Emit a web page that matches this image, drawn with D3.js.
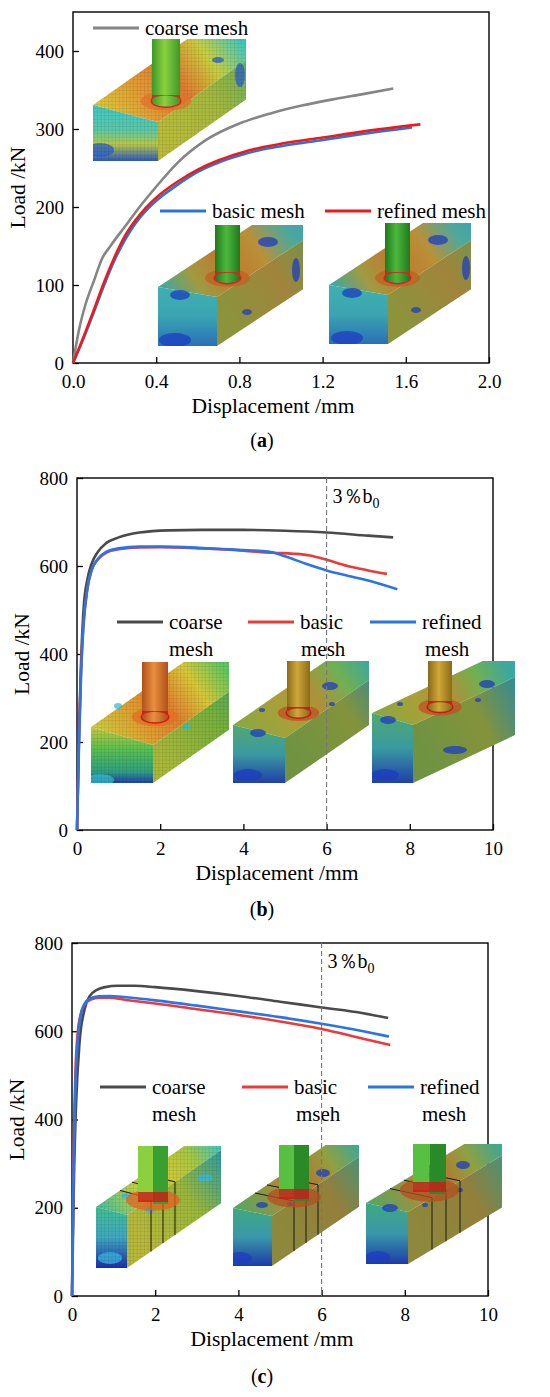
<!DOCTYPE html>
<html>
<head>
<meta charset="utf-8">
<script src="https://cdn.jsdelivr.net/npm/d3@7/dist/d3.min.js"></script>
<style>
  body { margin: 0; background: #fff; }
  svg text { font-family: "Liberation Serif", "Times New Roman", Times, "Nimbus Roman", "FreeSerif", "Noto Serif", "DejaVu Serif", "Tinos", serif; fill: #000; }
</style>
</head>
<body>
<svg id="fig" width="550" height="1397"></svg>
<script>
// ---- panel (a) data : displacement (mm) / load (kN)
const aCoarseX  = [0, 0.03, 0.06, 0.1, 0.14, 0.18, 0.25, 0.32, 0.4, 0.5, 0.64, 0.8, 0.95, 1.1, 1.25, 1.4, 1.54];
const aCoarseY  = [0, 44, 75, 105, 134, 150, 175, 200, 226, 256, 286, 307, 320, 330, 338, 345, 352];
const aBasicX   = [0, 0.05, 0.1, 0.15, 0.2, 0.25, 0.3, 0.35, 0.4, 0.5, 0.6, 0.7, 0.8, 0.9, 1.0, 1.2, 1.4, 1.63];
const aBasicY   = [0, 31, 65, 100, 132, 158, 179, 195, 208, 228, 245, 257, 266, 273, 278, 286, 294, 302];
const aRefinedX = [0, 0.05, 0.1, 0.15, 0.2, 0.25, 0.3, 0.35, 0.4, 0.5, 0.6, 0.7, 0.8, 0.9, 1.0, 1.2, 1.4, 1.67];
const aRefinedY = [0, 33, 68, 104, 136, 163, 183, 199, 212, 232, 248, 260, 269, 276, 281, 289, 297, 306];

// ---- panel (b) data
const bCoarseX  = [0, 0.05, 0.1, 0.16, 0.25, 0.35, 0.5, 0.7, 1.0, 1.5, 2.2, 3, 4, 5, 6, 7, 7.6];
const bCoarseY  = [0, 230, 390, 505, 570, 605, 632, 652, 665, 676, 681, 682, 682, 680, 676, 669, 665];
const bBasicX   = [0, 0.05, 0.1, 0.15, 0.25, 0.35, 0.5, 0.7, 1.0, 1.5, 2, 3, 4, 4.7, 5.2, 5.6, 6, 6.5, 7, 7.45];
const bBasicY   = [0, 220, 370, 460, 550, 590, 615, 630, 638, 642, 643, 640, 635, 630, 628, 624, 614, 600, 590, 582];
const bRefinedX = [0, 0.05, 0.1, 0.15, 0.25, 0.35, 0.5, 0.7, 1.0, 1.5, 2, 3, 4, 4.6, 5, 5.5, 6, 6.5, 7, 7.7];
const bRefinedY = [0, 200, 360, 455, 548, 590, 616, 632, 640, 644, 644, 641, 636, 633, 622, 605, 590, 578, 567, 547];

// ---- panel (c) data
const cCoarseX  = [0, 0.05, 0.1, 0.18, 0.3, 0.42, 0.6, 0.8, 1.1, 1.5, 2, 3, 4, 5, 6, 7, 7.6];
const cCoarseY  = [0, 280, 440, 573, 649, 679, 694, 700, 703, 703, 700, 691, 680, 667, 654, 641, 630];
const cBasicX   = [0, 0.04, 0.08, 0.14, 0.2, 0.3, 0.45, 0.65, 0.9, 1.3, 2, 3, 4, 5, 6, 7, 7.65];
const cBasicY   = [0, 330, 500, 600, 635, 660, 672, 676, 676, 671, 663, 650, 637, 622, 605, 583, 569];
const cRefinedX = [0, 0.04, 0.08, 0.14, 0.2, 0.3, 0.45, 0.65, 0.9, 1.3, 2, 3, 4, 5, 6, 7, 7.62];
const cRefinedY = [0, 300, 470, 580, 632, 662, 675, 679, 680, 677, 670, 658, 645, 632, 617, 600, 588];

const aXTicks = [0, 0.4, 0.8, 1.2, 1.6, 2.0];
const aYTicks = [0, 100, 200, 300, 400];
const bcXTicks = [0, 2, 4, 6, 8, 10];
const bcYTicks = [0, 200, 400, 600, 800];
const limitDisp = 6;   // 3%b0

const FONT = '"Liberation Serif", "Times New Roman", Times, "Nimbus Roman", FreeSerif, "Noto Serif", "DejaVu Serif", Tinos, serif';
const svg = d3.select("#fig");
const defs = svg.append("defs");

// coarse mesh grid
const pat = defs.append("pattern").attr("id", "mesh").attr("patternUnits", "userSpaceOnUse")
  .attr("width", 3.6).attr("height", 3.6);
pat.append("path").attr("d", "M0,0H3.6M0,0V3.6").attr("stroke", "rgba(0,0,0,0.28)").attr("stroke-width", 0.5);

// colour maps of the FE pictures
const pal = {
  coarseA: {
    top:   [[0, "#d8cc3a"], [0.25, "#e39a34"], [0.45, "#e07a30"], [0.65, "#c8d040"], [0.85, "#40c8c0"], [1, "#3cc0c8"]],
    front: [[0, "#c8cc40"], [0.3, "#b4c844"], [0.55, "#7cc060"], [0.8, "#3aa8c0"], [1, "#2a60c0"]],
    end:   [[0, "#40c8c4"], [0.45, "#5cc8a8"], [0.7, "#b8c84a"], [1, "#2c58c0"]],
    col: ["#3a9a28", "#8cd040", "#3a9a28"], ring: "#e02020", weld: "#e07030",
    spots: "#2b5fc8"
  },
  fineA: {
    top:   [[0, "#3aa8a8"], [0.2, "#a09a40"], [0.4, "#c07a30"], [0.6, "#b89038"], [0.8, "#4aa8a0"], [1, "#36a0b0"]],
    front: [[0, "#98a040"], [0.35, "#b09040"], [0.6, "#80a050"], [0.85, "#3a9aa8"], [1, "#3290b0"]],
    end:   [[0, "#40b0b0"], [0.5, "#3aa4b0"], [1, "#2a70b8"]],
    col: ["#1e7a1e", "#4cb83c", "#1e7a1e"], ring: "#e02020", weld: "#c06020",
    spots: "#1c3ec0"
  },
  coarseB: {
    top:   [[0, "#c8d040"], [0.25, "#e0a030"], [0.45, "#e08030"], [0.65, "#d8c838"], [0.85, "#60c860"], [1, "#40c890"]],
    front: [[0, "#b8c840"], [0.4, "#80c040"], [0.7, "#40b080"], [1, "#2a60b8"]],
    end:   [[0, "#c8c840"], [0.4, "#58c050"], [0.8, "#30a080"], [1, "#2040b0"]],
    col: ["#b05018", "#e89040", "#b05018"], ring: "#d01818", weld: "#e07020",
    spots: "#30c0d0"
  },
  fineB: {
    top:   [[0, "#88a840"], [0.3, "#a8a038"], [0.5, "#b09038"], [0.7, "#70b050"], [0.9, "#3aa8a0"], [1, "#40a8a0"]],
    front: [[0, "#7aa048"], [0.4, "#90a040"], [0.7, "#3a98a0"], [1, "#2a70b0"]],
    end:   [[0, "#50a870"], [0.5, "#3a9aa0"], [1, "#2040a8"]],
    col: ["#8a6a18", "#d0a838", "#8a6a18"], ring: "#c81818", weld: "#c05020",
    spots: "#1c3cc0"
  },
  coarseC: {
    top:   [[0, "#40c0a0"], [0.3, "#c8d040"], [0.5, "#d0c838"], [0.7, "#a8c840"], [0.9, "#40c8c0"], [1, "#40c0c8"]],
    front: [[0, "#c8c840"], [0.4, "#a8c840"], [0.7, "#40b0a0"], [1, "#2a58c0"]],
    end:   [[0, "#40c090"], [0.5, "#40a8c0"], [1, "#1c30a8"]],
    col: ["#38a030", "#8cd040", "#2a8028"], ring: "#d01818", weld: "#e06020",
    spots: "#3ab8e0"
  },
  fineC: {
    top:   [[0, "#50a860"], [0.3, "#a09040"], [0.5, "#b07a30"], [0.7, "#90a040"], [0.9, "#40a890"], [1, "#40a8a0"]],
    front: [[0, "#9a9440"], [0.4, "#a08a40"], [0.7, "#50a080"], [1, "#3a80b0"]],
    end:   [[0, "#40a880"], [0.5, "#3a98a8"], [1, "#1c3ca8"]],
    col: ["#2a8a28", "#58c040", "#2a7a28"], ring: "#d01818", weld: "#b05020",
    spots: "#1c3cc0"
  }
};

let gid = 0;
function gradient(x1, y1, x2, y2, stops) {
  const id = "gr" + (gid++);
  const lg = defs.append("linearGradient").attr("id", id).attr("gradientUnits", "userSpaceOnUse")
    .attr("x1", x1).attr("y1", y1).attr("x2", x2).attr("y2", y2);
  stops.forEach(s => lg.append("stop").attr("offset", s[0]).attr("stop-color", s[1]));
  return "url(#" + id + ")";
}

// rough picture of a chord + brace model (the FE screenshots of the figure)
function drawInset(g, s) {
  const [cx0, cy0, cx1, cy1] = s.crop;
  const [ex0, ea, ex1, eb, ey1] = s.end;
  const p = pal[s.pal];
  const id = "clip" + (gid++);
  defs.append("clipPath").attr("id", id).append("rect")
    .attr("x", cx0).attr("y", cy0).attr("width", cx1 - cx0).attr("height", cy1 - cy0);
  const ig = g.append("g").attr("clip-path", "url(#" + id + ")");
  const L = 400, dy = s.slope * L;
  const poly = pts => "M" + pts.map(d => d.join(",")).join("L") + "Z";
  const depth = cx1 - ex0;
  const top = [[ex0, ea], [ex1, eb], [ex1 + L, eb + dy], [ex0 + L, ea + dy]];
  const front = [[ex1, eb], [ex1 + L, eb + dy], [ex1 + L, ey1 + dy], [ex1, ey1]];
  const endF = [[ex0, ea], [ex1, eb], [ex1, ey1], [ex0, ey1]];

  ig.append("path").attr("d", poly(top))
    .attr("fill", gradient(ex0, ea, ex0 + depth, ea + s.slope * depth, p.top));
  ig.append("path").attr("d", poly(front))
    .attr("fill", gradient(ex1, eb, ex1 + depth, eb + s.slope * depth, p.front));
  ig.append("path").attr("d", poly(endF))
    .attr("fill", gradient(0, ea, 0, ey1, p.end));
  // a bit of shade on the long side
  ig.append("path").attr("d", poly(front)).attr("fill", "rgba(0,0,0,0.08)");

  // low stress spots
  (s.spots || []).forEach(d => {
    ig.append("ellipse").attr("cx", d[0]).attr("cy", d[1]).attr("rx", d[2]).attr("ry", d[3])
      .attr("fill", p.spots).attr("opacity", 0.75);
  });

  if (s.mesh) {
    [top, front, endF].forEach(f => ig.append("path").attr("d", poly(f)).attr("fill", "url(#mesh)"));
  }

  // stiffening rings of the (c) models
  (s.rings || []).forEach(t => {
    ig.append("path")
      .attr("d", `M${ex0 + t},${ea + s.slope * t}L${ex1 + t},${eb + s.slope * t}L${ex1 + t},${ey1 + s.slope * t}`)
      .attr("fill", "none").attr("stroke", "#1a1a1a").attr("stroke-width", 1);
  });

  // brace
  const c = s.col;
  const w = c.x1 - c.x0, mx = (c.x0 + c.x1) / 2;
  ig.append("ellipse").attr("cx", mx).attr("cy", c.base).attr("rx", w * 0.9).attr("ry", w * 0.35)
    .attr("fill", p.weld).attr("opacity", 0.75);
  if (c.square) {
    ig.append("rect").attr("x", c.x0).attr("y", cy0 - 2).attr("width", w * 0.5).attr("height", c.base - cy0 + 2)
      .attr("fill", p.col[1]);
    ig.append("rect").attr("x", mx).attr("y", cy0 - 2).attr("width", w * 0.5).attr("height", c.base - cy0 + 6)
      .attr("fill", p.col[0]);
    ig.append("rect").attr("x", c.x0).attr("y", c.base - 8).attr("width", w).attr("height", 10)
      .attr("fill", p.ring).attr("opacity", 0.8);
  } else {
    const fill = gradient(c.x0, 0, c.x1, 0, [[0, p.col[0]], [0.45, p.col[1]], [1, p.col[2]]]);
    ig.append("ellipse").attr("cx", mx).attr("cy", c.base).attr("rx", w / 2 + 1.5).attr("ry", w * 0.2 + 1.5)
      .attr("fill", p.ring);
    ig.append("rect").attr("x", c.x0).attr("y", cy0 - 2).attr("width", w).attr("height", c.base - cy0 + 2)
      .attr("fill", fill);
    ig.append("rect").attr("x", c.x0).attr("y", c.base - 6).attr("width", w).attr("height", 4)
      .attr("fill", p.ring).attr("opacity", 0.85);
    ig.append("ellipse").attr("cx", mx).attr("cy", c.base).attr("rx", w / 2).attr("ry", w * 0.2)
      .attr("fill", fill);
  }
}

function drawPanel(P) {
  const g = svg.append("g").style("font-family", FONT);
  const x = d3.scaleLinear().domain(P.xDomain).range([P.left, P.right]);
  const y = d3.scaleLinear().domain(P.yDomain).range([P.bottom, P.top]);

  const xa = g.append("g").attr("transform", `translate(0,${P.bottom})`)
    .call(d3.axisBottom(x).tickValues(P.xTicks).tickFormat(P.xFmt).tickSize(-6).tickSizeOuter(0).tickPadding(12));
  const ya = g.append("g").attr("transform", `translate(${P.left},0)`)
    .call(d3.axisLeft(y).tickValues(P.yTicks).tickFormat(d3.format("d")).tickSize(-6).tickSizeOuter(0).tickPadding(9));
  [xa, ya].forEach(a => {
    a.attr("font-family", FONT).attr("font-size", 19);
    a.selectAll(".tick line").attr("stroke", "#000").attr("stroke-width", 1.3);
    a.select(".domain").remove();
  });

  g.append("rect").attr("x", P.left).attr("y", P.top)
    .attr("width", P.right - P.left).attr("height", P.bottom - P.top)
    .attr("fill", "none").attr("stroke", "#000").attr("stroke-width", 1.4);

  P.insets.forEach(s => drawInset(g, s));

  const line = d3.line().x(d => x(d[0])).y(d => y(d[1])).curve(d3.curveMonotoneX);
  P.series.forEach(s => {
    g.append("path").datum(d3.zip(s.x, s.y)).attr("d", line)
      .attr("fill", "none").attr("stroke", s.color).attr("stroke-width", 2.6)
      .attr("stroke-linejoin", "round").attr("stroke-linecap", "butt");
  });

  // legend
  P.series.forEach((s, i) => {
    const L = P.legend[i];
    g.append("line").attr("x1", L.x).attr("x2", L.x + 46).attr("y1", L.y).attr("y2", L.y)
      .attr("stroke", s.color).attr("stroke-width", 3);
    const t = g.append("text").attr("x", L.x + 52).attr("y", L.y + 7)
      .attr("font-family", FONT).attr("font-size", 21);
    const parts = s.name.split("\n");
    parts.forEach((p, k) => t.append("tspan").attr("x", L.x + 52 + (k ? L.dx2 || 0 : 0))
      .attr("dy", k ? 27 : 0).text(p));
  });

  if (P.limit) {
    g.append("line").attr("x1", x(limitDisp)).attr("x2", x(limitDisp)).attr("y1", P.top).attr("y2", P.bottom)
      .attr("stroke", "#777").attr("stroke-width", 1.1).attr("stroke-dasharray", "5,3");
    const t = g.append("text").attr("x", x(limitDisp) + 6).attr("y", P.top + 25)
      .attr("font-family", FONT).attr("font-size", 20);
    t.append("tspan").text("3％b");
    t.append("tspan").attr("font-size", 14).attr("dy", 5).text("0");
  }

  g.append("text").attr("x", (P.left + P.right) / 2 - 8).attr("y", P.bottom + 50)
    .attr("text-anchor", "middle").attr("font-family", FONT).attr("font-size", 21.5).text("Displacement /mm");
  g.append("text").attr("transform", `translate(${P.left - 48},${(P.top + P.bottom) / 2}) rotate(-90)`)
    .attr("text-anchor", "middle").attr("font-family", FONT).attr("font-size", 21.5).text("Load /kN");

  const lab = g.append("text").attr("x", 262).attr("y", P.label[1]).attr("text-anchor", "middle")
    .attr("font-family", FONT).attr("font-size", 20);
  lab.append("tspan").text("(");
  lab.append("tspan").attr("font-weight", "bold").text(P.label[0]);
  lab.append("tspan").text(")");
}

drawPanel({
  left: 73, right: 489, top: 12, bottom: 363,
  xDomain: [0, 2], yDomain: [0, 450], xTicks: aXTicks, yTicks: aYTicks, xFmt: d3.format(".1f"),
  series: [
    { name: "coarse mesh", x: aCoarseX, y: aCoarseY, color: "#858585" },
    { name: "basic mesh", x: aBasicX, y: aBasicY, color: "#2a72e0" },
    { name: "refined mesh", x: aRefinedX, y: aRefinedY, color: "#ee1a1a" }
  ],
  legend: [{ x: 93, y: 28 }, { x: 160, y: 211 }, { x: 325, y: 211 }],
  insets: [
    { crop: [93, 39, 246, 161], end: [93, 105, 158, 122, 161], slope: -0.7, pal: "coarseA", mesh: true,
      col: { x0: 152, x1: 180, base: 101 }, spots: [[100, 150, 14, 7], [218, 60, 6, 3], [240, 75, 5, 12]] },
    { crop: [158, 225, 303, 346], end: [158, 287, 217, 297, 346], slope: -0.66, pal: "fineA",
      col: { x0: 215, x1: 240, base: 278 }, spots: [[180, 295, 10, 5], [175, 340, 16, 7], [268, 242, 10, 5], [296, 270, 4, 12], [247, 312, 5, 3]] },
    { crop: [329, 223, 471, 344], end: [329, 285, 388, 295, 344], slope: -0.66, pal: "fineA",
      col: { x0: 385, x1: 410, base: 278 }, spots: [[352, 293, 10, 5], [347, 338, 16, 7], [438, 240, 10, 5], [466, 268, 4, 12], [416, 310, 5, 3]] }
  ],
  label: ["a", 447]
});

drawPanel({
  left: 77, right: 493, top: 478, bottom: 830,
  xDomain: [0, 10], yDomain: [0, 800], xTicks: bcXTicks, yTicks: bcYTicks, xFmt: d3.format("d"),
  series: [
    { name: "coarse\nmesh", x: bCoarseX, y: bCoarseY, color: "#4a4a4a" },
    { name: "basic\nmesh", x: bBasicX, y: bBasicY, color: "#ef3838" },
    { name: "refined\nmesh", x: bRefinedX, y: bRefinedY, color: "#2a74e6" }
  ],
  legend: [{ x: 117, y: 622 }, { x: 248, y: 622, dx2: 1 }, { x: 370, y: 622, dx2: 3 }],
  insets: [
    { crop: [91, 662, 229, 783], end: [91, 727, 153, 745, 783], slope: -0.7, pal: "coarseB", mesh: true,
      col: { x0: 142, x1: 168, base: 717 }, spots: [[118, 706, 4, 3], [187, 727, 4, 3], [100, 780, 14, 6]] },
    { crop: [233, 661, 369, 783], end: [233, 725, 285, 738, 783], slope: -0.69, pal: "fineB",
      col: { x0: 287, x1: 310, base: 713 }, spots: [[258, 733, 8, 4], [248, 775, 14, 6], [330, 686, 8, 4], [262, 710, 3, 2], [332, 704, 3, 2]] },
    { crop: [372, 661, 515, 783], end: [372, 713, 413, 725, 783], slope: -0.47, pal: "fineB",
      col: { x0: 428, x1: 452, base: 707 }, spots: [[388, 720, 8, 4], [385, 775, 14, 6], [487, 684, 8, 4], [400, 704, 3, 2], [478, 700, 3, 2], [455, 750, 12, 4]] }
  ],
  limit: true,
  label: ["b", 916]
});

drawPanel({
  left: 72, right: 488, top: 943, bottom: 1296,
  xDomain: [0, 10], yDomain: [0, 800], xTicks: bcXTicks, yTicks: bcYTicks, xFmt: d3.format("d"),
  series: [
    { name: "coarse\nmesh", x: cCoarseX, y: cCoarseY, color: "#4a4a4a" },
    { name: "basic\nmseh", x: cBasicX, y: cBasicY, color: "#ef3838" },
    { name: "refined\nmesh", x: cRefinedX, y: cRefinedY, color: "#2a74e6" }
  ],
  legend: [{ x: 100, y: 1087 }, { x: 242, y: 1087, dx2: 2 }, { x: 368, y: 1087, dx2: 2 }],
  insets: [
    { crop: [96, 1146, 221, 1268], end: [96, 1207, 127, 1215, 1268], slope: -0.69, pal: "coarseC", mesh: true,
      col: { x0: 138, x1: 168, base: 1200, square: true }, rings: [24, 36, 48],
      spots: [[126, 1196, 5, 3], [150, 1210, 5, 3], [110, 1258, 12, 6], [205, 1178, 8, 4]] },
    { crop: [233, 1145, 359, 1266], end: [233, 1208, 272, 1216, 1266], slope: -0.68, pal: "fineC",
      col: { x0: 279, x1: 309, base: 1197, square: true }, rings: [22, 34, 46],
      spots: [[262, 1205, 6, 3], [240, 1258, 12, 6], [323, 1173, 7, 4], [290, 1204, 3, 2]] },
    { crop: [366, 1144, 502, 1264], end: [366, 1203, 408, 1212, 1264], slope: -0.6, pal: "fineC",
      col: { x0: 413, x1: 446, base: 1190, square: true }, rings: [24, 38, 52],
      spots: [[390, 1208, 8, 4], [378, 1257, 12, 6], [463, 1165, 7, 4], [425, 1205, 3, 2], [460, 1190, 3, 2]] }
  ],
  limit: true,
  label: ["c", 1383]
});
</script>
</body>
</html>
